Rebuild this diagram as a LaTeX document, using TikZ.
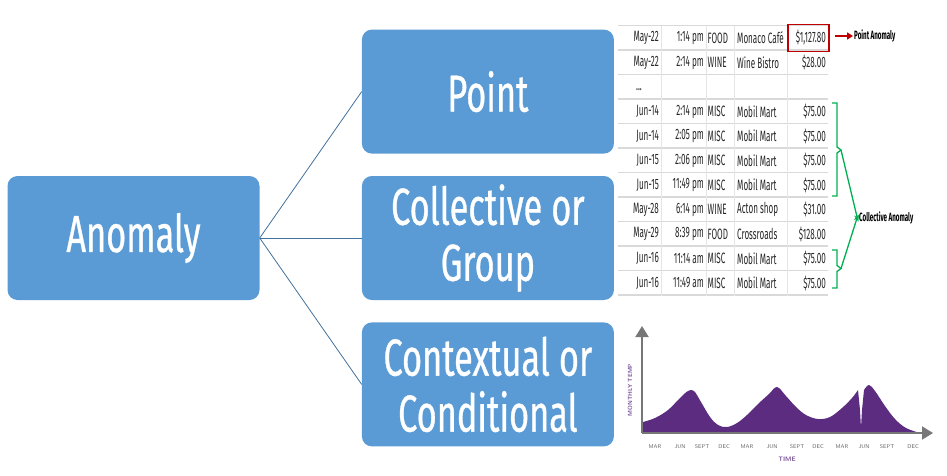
\documentclass[tikz,border=0pt]{standalone}
\usepackage{fontspec}
\setmainfont{Fira Sans}
\newfontfamily\boxfont[FakeStretch=0.66,FakeBold=0.6]{Fira Sans}
\newfontfamily\tabfont[FakeStretch=0.54]{Fira Sans}
\newfontfamily\tagfont[FakeStretch=0.52]{Fira Sans}
\usetikzlibrary{arrows.meta,positioning,calc}
\definecolor{boxblue}{HTML}{5B9BD5}
\definecolor{linkblue}{HTML}{41719C}
\definecolor{anomred}{HTML}{C00000}
\definecolor{anomgreen}{HTML}{00B050}
\definecolor{temppurple}{HTML}{5B2C80}
\definecolor{axisgray}{HTML}{777777}
\tikzset{
 box/.style={fill=boxblue,rounded corners=10pt,align=center,minimum height=124pt,
             minimum width=252pt,text=white,font=\boxfont\fontsize{52}{56}\selectfont},
 link/.style={draw=linkblue,line width=0.8pt},
 cell/.style={inner sep=0pt,text=black!85,font=\tabfont\fontsize{15}{16}\selectfont},
 grid/.style={draw=gray!30,line width=1.2pt},
 tag/.style={inner sep=1pt,font=\tagfont\bfseries\fontsize{12}{13}\selectfont},
 redarrow/.style={-{Triangle[length=6pt,width=7pt]},draw=anomred,line width=2pt},
 greenarrow/.style={-{Stealth[length=6pt,width=5pt]},draw=anomgreen,line width=1.3pt},
 brace/.style={draw=anomgreen,line width=1.3pt},
 axis/.style={draw=axisgray,line width=2pt,-{Triangle[length=11pt,width=13pt]}},
 month/.style={inner sep=0pt,text=gray!80!black,font=\sffamily\fontsize{5.5}{6}\selectfont},
}

\begin{document}
\begin{tikzpicture}[x=1pt,y=-1pt,node distance=22pt and 102pt]
\useasboundingbox (0,0) rectangle (947,475);
% taxonomy boxes
\node[box] (anom) at (133.5,238) {Anomaly};
\node[box,right=of anom] (coll) {Collective or\\Group};
\node[box,above=of coll] (point) {Point};
\node[box,below=of coll] (cont) {Contextual or\\Conditional};
\draw[link] (anom.east) -- (point.west);
\draw[link] (anom.east) -- (coll.west);
\draw[link] (anom.east) -- (cont.west);

% transaction table
\foreach \k in {0,...,11}
  \draw[grid] (618,25.5+24.5*\k) -- (828,25.5+24.5*\k);
\foreach \cx in {661,706,734,787}
  \draw[draw=gray!20,line width=1pt] (\cx,25.5) -- (\cx,295.5);
\foreach \r/\dd/\tt/\cc/\mm/\aa in {
  1/May-22/1:14 pm/FOOD/Monaco Café/{\$1,127.80},
  2/May-22/2:14 pm/WINE/Wine Bistro/\$28.00,
  4/Jun-14/2:14 pm/MISC/Mobil Mart/\$75.00,
  5/Jun-14/2:05 pm/MISC/Mobil Mart/\$75.00,
  6/Jun-15/2:06 pm/MISC/Mobil Mart/\$75.00,
  7/Jun-15/11:49 pm/MISC/Mobil Mart/\$75.00,
  8/May-28/6:14 pm/WINE/Acton shop/\$31.00,
  9/May-29/8:39 pm/FOOD/Crossroads/\$128.00,
  10/Jun-16/11:14 am/MISC/Mobil Mart/\$75.00,
  11/Jun-16/11:49 am/MISC/Mobil Mart/\$75.00}{
  \node[cell,anchor=east] (d\r) at (659,13.5+24.5*\r) {\dd};
  \node[cell,anchor=east] (t\r) at (704,13.5+24.5*\r) {\tt};
  \node[cell,anchor=west] (c\r) at (707.5,13.5+24.5*\r) {\cc};
  \node[cell,anchor=west] (m\r) at (737,13.5+24.5*\r) {\mm};
  \node[cell,anchor=east] (a\r) at (826,13.5+24.5*\r) {\aa};
}
\node[cell] (gap) at (639,90) {...};

% point anomaly marker
\node[draw=anomred,line width=1.6pt,minimum width=41pt,minimum height=27pt] (pbox) at (808.5,38) {};
\node[tag,anchor=west] (ptag) at (853,36) {Point Anomaly};
\draw[redarrow,shorten <=5pt] (pbox.east |- ptag.west) -- (ptag.west);

% collective anomaly marker
\node[tag,anchor=west] (ctag) at (858,218) {Collective Anomaly};
\coordinate (b1) at (841,150);
\coordinate (b2) at (841,268.5);
\draw[brace] (832,103) -- (837,103) -- (837,147) -- (b1) -- (837,153) -- (837,196) -- (832,196);
\draw[brace] (832,250) -- (837,250) -- (837,265.5) -- (b2) -- (837,271.5) -- (837,288) -- (832,288);
\draw[greenarrow] (b1) -- ([yshift=-3pt]ctag.west);
\draw[greenarrow] (b2) -- ([yshift=3pt]ctag.west);

% temperature chart
\fill[temppurple] (643,433) -- plot[smooth,tension=0.6] coordinates {
  (643,422) (655,418) (668,410) (680,398) (688,391) (694,391) (701,402) (710,417)
  (718,425) (727,427) (737,423) (747,415) (758,404) (769,394) (777,387) (786,396)
  (796,407) (806,415) (818,419) (830,417) (842,408) (852,398) (858,390)}
  -- (860,410) -- (861,428) -- (862,410) -- plot[smooth,tension=0.6] coordinates {
  (864,390) (869,385) (875,391) (885,406) (895,419) (906,428) (920,433)} -- cycle;
\coordinate (org) at (642,433);
\draw[axis] (org) -- (642,326);
\draw[axis] (org) -- (933,433);
\foreach \mx/\mn [count=\i] in {655/MAR,680/JUN,702/SEPT,724/DEC,747/MAR,772/JUN,
  797/SEPT,818/DEC,842/MAR,864/JUN,887/SEPT,913/DEC}
  \node[month] (mon\i) at (\mx,447) {\mn};
\node[month,text=temppurple!80,font=\sffamily\bfseries\fontsize{6.5}{7}\selectfont] (time) at (787,459) {TIME};
\node[month,text=temppurple!80,font=\sffamily\bfseries\fontsize{6}{7}\selectfont,rotate=90] (temp) at (630,390) {MONTHLY TEMP};
\end{tikzpicture}
\end{document}
